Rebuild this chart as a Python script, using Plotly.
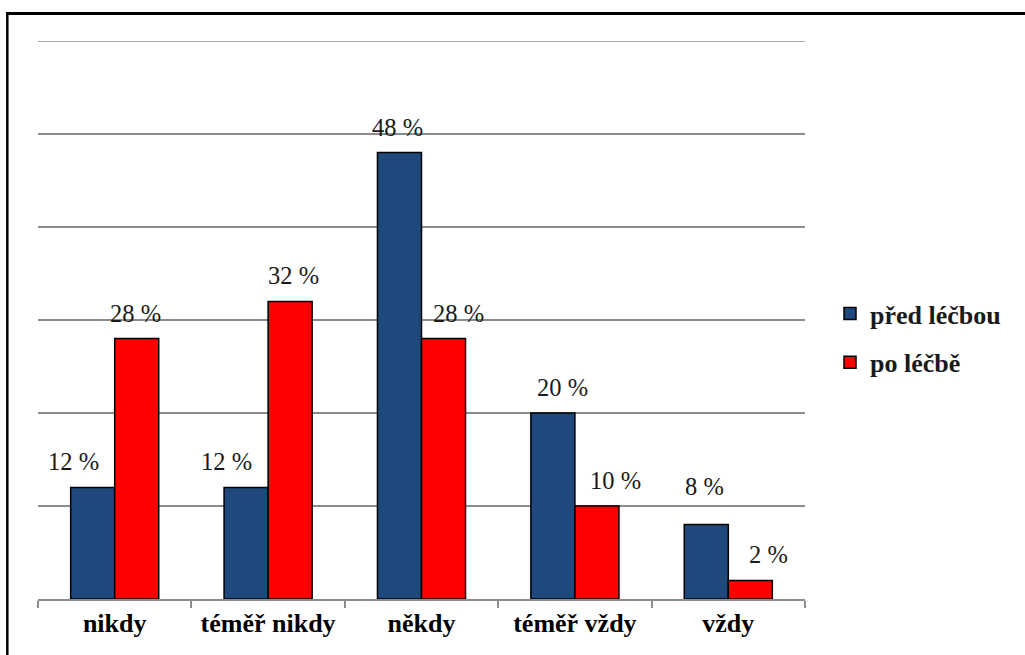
import plotly.graph_objects as go

# Survey answers before and after treatment (percent of respondents)
categories = ["nikdy", "téměř nikdy", "někdy", "téměř vždy", "vždy"]
series_names = ["před léčbou", "po léčbě"]
before = [12, 12, 48, 20, 8]
after = [28, 32, 28, 10, 2]

# Styling
colors = ["#1F497D", "#FF0000"]
serif = "Liberation Serif"
grid_color = "#8C8C8C"

W, H = 1025, 655
margin = dict(l=38, r=220, t=41, b=56)
plot_w = W - margin["l"] - margin["r"]
plot_h = H - margin["t"] - margin["b"]
bargap = 0.426
y_max = 60

# Horizontal nudges / extra lift (px) for individual value labels
label_dx = [[-19, -20, -2, 10, -2], [-1, 3, 15, 19, 18]]
label_dy = [[0, 0, 0, 0, 13], [0, 0, 0, 0, 0]]

fig = go.Figure()
for name, vals, col in zip(series_names, [before, after], colors):
    fig.add_trace(go.Bar(
        x=categories, y=vals, name=name, legendgroup=name,
        marker=dict(color=col, line=dict(color="black", width=1.5)),
        hoverinfo="skip",
    ))

# Value labels above the bars
cat_w = plot_w / len(categories)
bar_w = cat_w * (1 - bargap) / 2
annotations = []
for s, vals in enumerate([before, after]):
    centre = (s - 0.5) * bar_w
    for i, (cat, v) in enumerate(zip(categories, vals)):
        annotations.append(dict(
            x=cat, y=v, xref="x", yref="y", text=f"{v} %",
            showarrow=False, xanchor="center", yanchor="bottom",
            xshift=centre + label_dx[s][i], yshift=10 + label_dy[s][i],
            font=dict(family=serif, size=24.5),
        ))

# Outer frame (top and left edges)
def px_to_paper_x(px):
    return (px - margin["l"]) / plot_w

def px_to_paper_y(py):
    return (H - margin["b"] - py) / plot_h

shapes = [
    # top gridline at the edge of the value range
    dict(type="line", xref="paper", yref="y", x0=0, x1=1, y0=y_max, y1=y_max,
         line=dict(color=grid_color, width=1.5), layer="below"),
    dict(type="line", xref="paper", yref="paper",
         x0=px_to_paper_x(7), x1=px_to_paper_x(1030),
         y0=px_to_paper_y(13.5), y1=px_to_paper_y(13.5),
         line=dict(color="black", width=3)),
    dict(type="line", xref="paper", yref="paper",
         x0=px_to_paper_x(7.3), x1=px_to_paper_x(7.3),
         y0=px_to_paper_y(12), y1=px_to_paper_y(660),
         line=dict(color="black", width=2.5)),
]

fig.update_layout(
    width=W, height=H, autosize=False, margin=margin,
    paper_bgcolor="white", plot_bgcolor="white",
    font=dict(color="#1a1a1a"),
    barmode="group", bargap=bargap, bargroupgap=0,
    annotations=annotations, shapes=shapes,
    showlegend=True,
    legend=dict(
        x=px_to_paper_x(830), y=px_to_paper_y(290),
        xanchor="left", yanchor="top",
        font=dict(family=serif, size=26, weight="bold"),
        tracegroupgap=12, bgcolor="rgba(0,0,0,0)",
    ),
    xaxis=dict(
        type="category", tickson="boundaries",
        showline=True, linecolor=grid_color, linewidth=1.5,
        ticks="outside", ticklen=7, tickcolor=grid_color, tickwidth=1.5,
        showgrid=False, zeroline=False,
        tickfont=dict(family=serif, size=26, color="black", weight="bold"),
    ),
    yaxis=dict(
        range=[0, y_max], dtick=10, showgrid=True,
        gridcolor=grid_color, gridwidth=1.5,
        showticklabels=False, zeroline=False, showline=False, ticks="",
    ),
)

fig.write_html("out.html")
